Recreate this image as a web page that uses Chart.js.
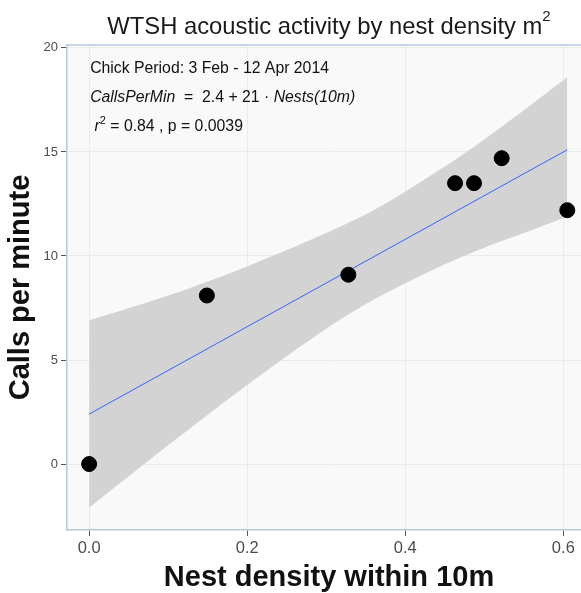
<!DOCTYPE html>
<html>
<head>
<meta charset="utf-8">
<title>WTSH acoustic activity</title>
<script src="https://cdn.jsdelivr.net/npm/chart.js@4.4.1/dist/chart.umd.min.js"></script>
<style>
  html, body { margin: 0; padding: 0; background: #fff; overflow: hidden; }
  #wrap { width: 581px; height: 593px; overflow: hidden; }
</style>
</head>
<body>
<div id="wrap"><canvas id="densityChart" width="600" height="593"></canvas></div>
<script>
// nest density (nests within 10m) vs calls per minute, chick period
const nestDensity = [0, 0.149, 0.328, 0.463, 0.487, 0.522, 0.605];
const callsPerMin = [0, 8.1, 9.1, 13.5, 13.5, 14.7, 12.2];

// fitted line from the model label: CallsPerMin = 2.4 + 21 * Nests
const fitIntercept = 2.4;
const fitSlope = 21;
const fitX = [0, 0.605];

// 95% confidence band around the fit
const bandX = [0, 0.1, 0.2, 0.3, 0.365, 0.45, 0.5, 0.55, 0.605];
const bandUpper = [6.9, 8.1, 9.5, 11.1, 12.3, 14.3, 15.6, 17.0, 18.6];
const bandLower = [-2.1, 0.9, 3.8, 6.5, 8.0, 9.6, 10.4, 11.1, 11.9];

const xTicks = [0, 0.2, 0.4, 0.6];
const yTicks = [0, 5, 10, 15, 20];

const FONT = '"Liberation Sans", Arial, sans-serif';
const axisBlue = '#b7c8dc';

function pts(xs, ys) {
  return xs.map((x, i) => ({ x: x, y: ys[i] }));
}

// draws a run of text pieces left to right, each with its own font / raise
function drawRuns(ctx, runs, x, y) {
  runs.forEach(r => {
    ctx.font = r.font;
    ctx.fillText(r.text, x, y - (r.raise || 0));
    x += ctx.measureText(r.text).width;
  });
}

function runsWidth(ctx, runs) {
  let w = 0;
  runs.forEach(r => { ctx.font = r.font; w += ctx.measureText(r.text).width; });
  return w;
}

const panelPlugin = {
  id: 'panel',
  beforeDraw(chart) {
    const { ctx, chartArea: a } = chart;
    ctx.save();
    ctx.fillStyle = '#f9f9f9';
    ctx.fillRect(a.left, a.top, a.right - a.left, a.bottom - a.top);
    ctx.restore();
  },
  afterDraw(chart) {
    const { ctx, chartArea: a, scales } = chart;
    ctx.save();
    // top edge of the panel
    ctx.strokeStyle = axisBlue;
    ctx.lineWidth = 1.5;
    ctx.beginPath();
    ctx.moveTo(a.left, a.top);
    ctx.lineTo(a.right, a.top);
    ctx.stroke();

    // title with superscript
    ctx.fillStyle = '#1a1a1a';
    ctx.textBaseline = 'middle';
    const titleRuns = [
      { text: 'WTSH acoustic activity by nest density m', font: '23.8px ' + FONT },
      { text: '2', font: '15px ' + FONT, raise: 10 }
    ];
    const cx = (a.left + a.right) / 2;
    drawRuns(ctx, titleRuns, cx - runsWidth(ctx, titleRuns) / 2, 27);

    // annotations inside the panel
    const tx = scales.x.getPixelForValue(0) + 1;
    const f = '15.8px ' + FONT;
    ctx.fillStyle = '#111';
    drawRuns(ctx, [{ text: 'Chick Period: 3 Feb - 12 Apr 2014', font: f }], tx, 69);
    drawRuns(ctx, [
      { text: 'CallsPerMin', font: 'italic ' + f },
      { text: '  =  2.4 + 21 \u00b7 ', font: f },
      { text: 'Nests(10m)', font: 'italic ' + f }
    ], tx, 98);
    drawRuns(ctx, [
      { text: ' r', font: 'italic ' + f },
      { text: '2', font: '11px ' + FONT, raise: 6 },
      { text: ' = 0.84 , p = 0.0039', font: f }
    ], tx, 127);
    ctx.restore();
  }
};

const ctx = document.getElementById('densityChart');
new Chart(ctx, {
  type: 'scatter',
  data: {
    datasets: [
      {
        label: 'Calls per minute',
        data: pts(nestDensity, callsPerMin),
        backgroundColor: '#000',
        borderColor: '#000',
        pointRadius: 7.5,
        pointHoverRadius: 7.5,
        order: 0
      },
      {
        label: 'fit',
        type: 'line',
        data: pts(fitX, fitX.map(x => fitIntercept + fitSlope * x)),
        borderColor: '#3366ff',
        borderWidth: 1,
        pointRadius: 0,
        fill: false,
        order: 1
      },
      {
        label: 'upper',
        type: 'line',
        data: pts(bandX, bandUpper),
        borderWidth: 0,
        borderColor: 'rgba(0,0,0,0)',
        backgroundColor: '#d3d3d3',
        pointRadius: 0,
        tension: 0.3,
        fill: '+1',
        order: 2
      },
      {
        label: 'lower',
        type: 'line',
        data: pts(bandX, bandLower),
        borderWidth: 0,
        borderColor: 'rgba(0,0,0,0)',
        pointRadius: 0,
        tension: 0.3,
        fill: false,
        order: 3
      }
    ]
  },
  options: {
    responsive: false,
    animation: false,
    devicePixelRatio: 1,
    layout: { padding: { top: 45, right: 9, bottom: 0, left: 0 } },
    plugins: {
      legend: { display: false },
      tooltip: { enabled: false },
      title: { display: false }
    },
    scales: {
      x: {
        type: 'linear',
        min: -0.028,
        max: 0.635,
        afterFit: s => { s.height = 63; },
        afterBuildTicks: s => { s.ticks = xTicks.map(v => ({ value: v })); },
        grid: { color: '#ebebeb', tickColor: '#555', tickLength: 6, lineWidth: 1 },
        border: { color: axisBlue, width: 1.5 },
        ticks: {
          padding: 3,
          color: '#4d4d4d',
          font: { family: FONT, size: 16.5 },
          callback: v => v.toFixed(1)
        },
        title: {
          display: true,
          text: 'Nest density within 10m',
          color: '#111',
          font: { family: FONT, size: 29, weight: 'bold', lineHeight: 1 },
          padding: { top: 0, bottom: 1 }
        }
      },
      y: {
        type: 'linear',
        min: -3.17,
        max: 20.14,
        afterFit: s => { s.width = 67; },
        afterBuildTicks: s => { s.ticks = yTicks.map(v => ({ value: v })); },
        grid: { color: '#ebebeb', tickColor: '#555', tickLength: 6, lineWidth: 1 },
        border: { color: axisBlue, width: 1.5 },
        ticks: {
          padding: 3,
          color: '#4d4d4d',
          font: { family: FONT, size: 13 }
        },
        title: {
          display: true,
          text: 'Calls per minute',
          color: '#111',
          font: { family: FONT, size: 29, weight: 'bold', lineHeight: 1 },
          padding: { top: 6, bottom: 0 }
        }
      }
    }
  },
  plugins: [panelPlugin]
});
</script>
</body>
</html>
